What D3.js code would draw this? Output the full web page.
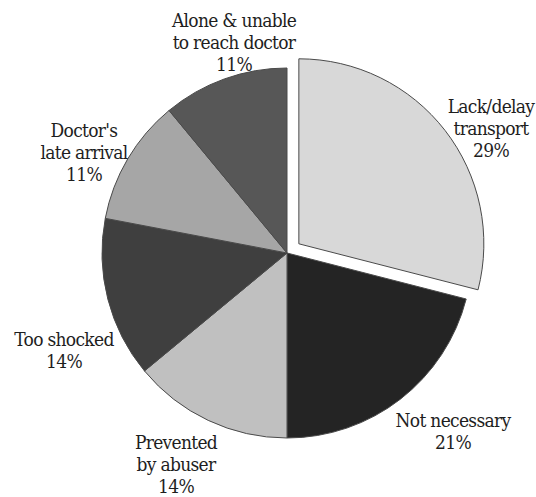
<!DOCTYPE html>
<html>
<head>
<meta charset="utf-8">
<script src="https://cdn.jsdelivr.net/npm/d3@7/dist/d3.min.js"></script>
<style>
  html, body { margin: 0; padding: 0; background: #fff; }
  svg { display: block; }
</style>
</head>
<body>
<svg id="chart" width="536" height="497"></svg>
<script>
// Reasons for not seeking medical care (share of respondents, %)
const categories = [
  "Lack/delay transport",
  "Not necessary",
  "Prevented by abuser",
  "Too shocked",
  "Doctor's late arrival",
  "Alone & unable to reach doctor"
];
const values = [29, 21, 14, 14, 11, 11];
const labelLines = [
  ["Lack/delay", "transport"],
  ["Not necessary"],
  ["Prevented", "by abuser"],
  ["Too shocked"],
  ["Doctor's", "late arrival"],
  ["Alone & unable", "to reach doctor"]
];

// Styling and layout
const fills = ["#d8d8d8", "#242424", "#c0c0c0", "#3f3f3f", "#a6a6a6", "#575757"];
const explodeIndex = 0;
const explodeDist = 15;
const cx = 287, cy = 253, radius = 185;
const fontFamily = "'DejaVu Serif Condensed', 'DejaVu Serif', serif";
const fontSize = 19, lineH = 22;
// Label block centres (x, y of the block's vertical middle)
const labelAnchors = [
  [491, 128], [453, 431], [176, 464], [64, 350], [84, 152], [234, 42]
];

const svg = d3.select("#chart");
const g = svg.append("g").attr("transform", `translate(${cx},${cy})`);

const pie = d3.pie().sort(null).value(d => d.value).startAngle(0).endAngle(2 * Math.PI);
const arc = d3.arc().innerRadius(0).outerRadius(radius);

const data = categories.map((c, i) => ({ name: c, value: values[i], i }));
const arcs = pie(data);

g.selectAll("path.slice")
  .data(arcs)
  .join("path")
  .attr("class", "slice")
  .attr("d", arc)
  .attr("fill", (d) => fills[d.data.i])
  .attr("stroke", "#4a4a4a")
  .attr("stroke-width", 1)
  .attr("transform", d => {
    if (d.data.i !== explodeIndex) return null;
    const mid = (d.startAngle + d.endAngle) / 2;
    return `translate(${Math.sin(mid) * explodeDist},${-Math.cos(mid) * explodeDist})`;
  });

// Labels: name lines followed by the percentage
const labels = svg.selectAll("text.lbl")
  .data(arcs)
  .join("text")
  .attr("class", "lbl")
  .attr("text-anchor", "middle")
  .attr("font-family", fontFamily)
  .attr("font-size", fontSize)
  .attr("letter-spacing", -0.7)
  .attr("fill", "#1e1e1e");

labels.each(function(d) {
  const i = d.data.i;
  const lines = labelLines[i].concat([d3.format("d")(d.data.value) + "%"]);
  const [ax, ay] = labelAnchors[i];
  const top = ay - (lines.length - 1) * lineH / 2;
  d3.select(this).selectAll("tspan")
    .data(lines)
    .join("tspan")
    .attr("x", ax)
    .attr("y", (l, k) => top + k * lineH)
    .attr("dy", "0.35em")
    .text(l => l);
});
</script>
</body>
</html>
